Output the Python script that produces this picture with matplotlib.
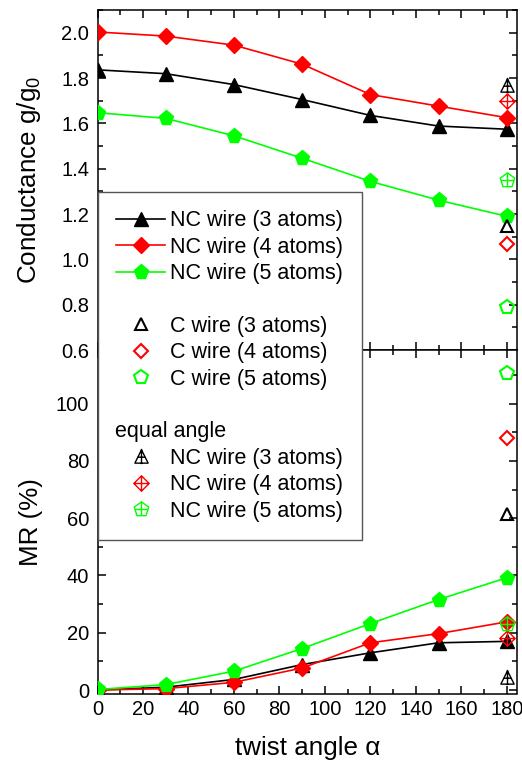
import matplotlib
matplotlib.use("Agg")
import matplotlib.pyplot as plt
import numpy as np
from matplotlib.path import Path
from matplotlib.lines import Line2D
from matplotlib.ticker import MultipleLocator

plt.rcParams['font.family'] = ['Liberation Sans', 'DejaVu Sans']
plt.rcParams['mathtext.default'] = 'regular'

# ---------------- data ----------------
alpha = [0, 30, 60, 90, 120, 150, 180]
G_nc3 = [1.836, 1.819, 1.771, 1.705, 1.635, 1.588, 1.574]
G_nc4 = [2.003, 1.985, 1.945, 1.861, 1.727, 1.676, 1.625]
G_nc5 = [1.647, 1.622, 1.545, 1.446, 1.344, 1.261, 1.190]
MR_nc3 = [0.0, 1.0, 3.7, 8.9, 13.0, 16.5, 17.0]
MR_nc4 = [0.0, 0.5, 2.7, 7.7, 16.5, 19.7, 23.8]
MR_nc5 = [0.2, 1.9, 6.6, 14.5, 23.2, 31.6, 39.2]

alpha_end = [180]
G_c3, G_c4, G_c5 = [1.147], [1.067], [0.791]
G_eq3, G_eq4, G_eq5 = [1.771], [1.698], [1.348]
MR_c3, MR_c4, MR_c5 = [61.3], [88.0], [110.7]
MR_eq3, MR_eq4, MR_eq5 = [4.4], [18.2], [22.9]

labels_nc = ['NC wire (3 atoms)', 'NC wire (4 atoms)', 'NC wire (5 atoms)']
labels_c = ['C wire (3 atoms)', 'C wire (4 atoms)', 'C wire (5 atoms)']
label_eq = 'equal angle'

BLACK, RED, GREEN = '#000000', '#ff0000', '#00ff00'

# ---------------- custom markers ----------------
M, L_, C_ = Path.MOVETO, Path.LINETO, Path.CLOSEPOLY
tri_plus = Path([(0, 1), (-1, -1), (1, -1), (0, 1), (0, 1.15), (0, -1.15), (-0.55, -0.1), (0.55, -0.1)],
                [M, L_, L_, C_, M, L_, M, L_])
dia_plus = Path([(0, 1), (1, 0), (0, -1), (-1, 0), (0, 1), (-1, 0), (1, 0), (0, 1), (0, -1)],
                [M, L_, L_, L_, C_, M, L_, M, L_])
ang = np.deg2rad(90 + 72 * np.arange(5))
pv = [(np.cos(a), np.sin(a)) for a in ang]
pen_plus = Path(pv + [pv[0], (0, 1), (0, -0.809), (-0.851, 0), (0.851, 0)],
                [M, L_, L_, L_, L_, C_, M, L_, M, L_])

# ---------------- figure ----------------
fig = plt.figure(figsize=(5.22, 7.6), dpi=100)
W = 419.5 / 522
Lft = 97.5 / 522
ax1 = fig.add_axes([Lft, 1 - 350 / 760, W, 340 / 760])
ax2 = fig.add_axes([Lft, 1 - 693.5 / 760, W, 343.5 / 760], sharex=ax1)

lw = 1.2
fs_tick = 14.5
fs_lab = 18.7

def filled(ax, y, color, marker, ms):
    return ax.plot(alpha, y, color=color, lw=lw, marker=marker, ms=ms,
                   mfc=color, mec=color, mew=1, zorder=3)[0]

def openm(ax, y, color, marker, ms, mew=1.5):
    return ax.plot(alpha_end, y, linestyle='none', marker=marker, ms=ms,
                   mfc='none', mec=color, mew=mew, zorder=4)[0]

h_nc3 = filled(ax1, G_nc3, BLACK, '^', 10)
h_nc4 = filled(ax1, G_nc4, RED, 'D', 8.3)
h_nc5 = filled(ax1, G_nc5, GREEN, 'p', 11)
h_c3 = openm(ax1, G_c3, BLACK, '^', 8.5)
h_c4 = openm(ax1, G_c4, RED, 'D', 7.5)
h_c5 = openm(ax1, G_c5, GREEN, 'p', 10)
h_e3 = openm(ax1, G_eq3, BLACK, tri_plus, 11, 1.0)
h_e4 = openm(ax1, G_eq4, RED, dia_plus, 11, 1.0)
h_e5 = openm(ax1, G_eq5, GREEN, pen_plus, 11, 1.0)

filled(ax2, MR_nc3, BLACK, '^', 10)
filled(ax2, MR_nc4, RED, 'D', 8.3)
filled(ax2, MR_nc5, GREEN, 'p', 11)
openm(ax2, MR_c3, BLACK, '^', 8.5)
openm(ax2, MR_c4, RED, 'D', 7.5)
openm(ax2, MR_c5, GREEN, 'p', 10)
openm(ax2, MR_eq3, BLACK, tri_plus, 11, 1.0)
openm(ax2, MR_eq4, RED, dia_plus, 11, 1.0)
openm(ax2, MR_eq5, GREEN, pen_plus, 11, 1.0)

ax1.set_xlim(0, 184.5)
ax1.set_ylim(0.6, 2.1)
ax2.set_ylim(-1.2, 118.7)

for ax in (ax1, ax2):
    ax.xaxis.set_major_locator(MultipleLocator(20))
    ax.xaxis.set_minor_locator(MultipleLocator(10))
    ax.tick_params(which='both', direction='in', top=True, right=True, width=1.1,
                   labelsize=fs_tick)
    ax.tick_params(which='major', length=6)
    ax.tick_params(which='minor', length=3.5)
    ax.tick_params(axis='y', pad=6)
    ax.tick_params(axis='x', pad=4.5)
    for s in ax.spines.values():
        s.set_linewidth(1.1)

ax1.yaxis.set_major_locator(MultipleLocator(0.2))
ax1.yaxis.set_minor_locator(MultipleLocator(0.1))
ax1.yaxis.set_major_formatter(matplotlib.ticker.FormatStrFormatter('%.1f'))
ax2.yaxis.set_major_locator(MultipleLocator(20))
ax2.yaxis.set_minor_locator(MultipleLocator(10))
ax1.tick_params(axis='x', labelbottom=False)

ax1.set_ylabel('Conductance g/g$_0$', fontsize=fs_lab)
ax2.set_ylabel('MR (%)', fontsize=fs_lab)
ax2.set_xlabel('twist angle \u03b1', fontsize=fs_lab)
ax1.yaxis.set_label_coords(-0.131, 0.5)
ax2.yaxis.set_label_coords(-0.131, 0.5)
ax2.xaxis.set_label_coords(0.5, -0.125)

blank = Line2D([], [], linestyle='none')
handles = [h_nc3, h_nc4, h_nc5, blank, h_c3, h_c4, h_c5, blank, blank, h_e3, h_e4, h_e5]
labels = labels_nc + [' '] + labels_c + [' ', label_eq] + labels_nc
leg = fig.legend(handles, labels, loc='upper left',
                 bbox_to_anchor=(97.5 / 522, 1 - 192 / 760), borderaxespad=0,
                 fontsize=15.5, handlelength=2.3, handletextpad=0.23,
                 labelspacing=0.25, borderpad=0.85, fancybox=False,
                 framealpha=1, edgecolor='#555555', frameon=True)
leg.get_frame().set_linewidth(1.0)
leg.get_texts()[8].set_x(-55)

fig.savefig('out.png', dpi=100)
